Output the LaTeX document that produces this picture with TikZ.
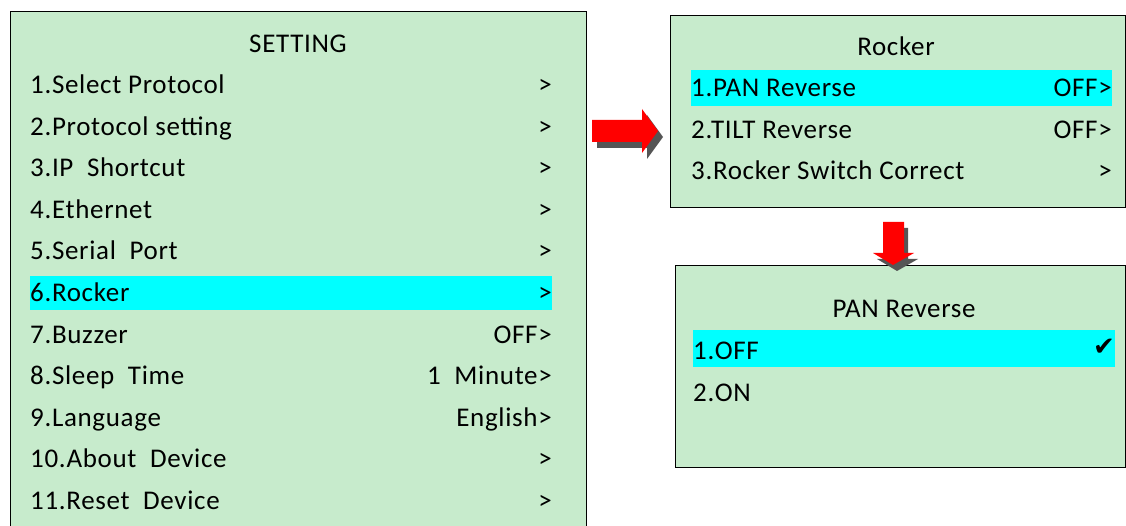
\documentclass[tikz,border=0pt]{standalone}
\usepackage{fontspec}
\setmainfont[LetterSpace=2.5]{Carlito}
\newfontfamily\symfont{DejaVu Sans}
\definecolor{panelgreen}{RGB}{199,235,204}
\definecolor{hlcyan}{RGB}{0,255,255}
\definecolor{shadowgray}{RGB}{85,85,85}

\begin{document}
\begin{tikzpicture}[x=1pt, y=-1pt]

\tikzstyle{panel} = [rectangle, draw=black, line width=1.2pt, fill=panelgreen, anchor=north west, inner sep=0]
\tikzstyle{hl} = [rectangle, fill=hlcyan, anchor=north west, inner sep=0]
\tikzstyle{item} = [anchor=base west, inner sep=0, font=\fontsize{27}{30}\selectfont]
\tikzstyle{val} = [anchor=base east, inner sep=0, font=\fontsize{27}{30}\selectfont]
\tikzstyle{ttl} = [anchor=base, inner sep=0, font=\fontsize{27}{30}\selectfont]

\useasboundingbox (0,0) rectangle (1126,526);

% panels
\node[panel, minimum width=576pt, minimum height=530pt] (setting) at (10,11) {};
\node[panel, minimum width=455pt, minimum height=192pt] (rocker) at (670,15) {};
\node[panel, minimum width=450pt, minimum height=202pt] (pan) at (675,265) {};

% highlights
\node[hl, minimum width=522pt, minimum height=34pt] (h1) at (30,276) {};
\node[hl, minimum width=421pt, minimum height=36pt] (h2) at (691,70) {};
\node[hl, minimum width=422pt, minimum height=37pt] (h3) at (693,330) {};

% SETTING menu
\node[ttl] (st) at (298,53) {SETTING};
\node[item] (s1) at (30,94) {1.Select Protocol};
\node[val] (v1) at (552,94) {>};
\node[item] (s2) at (30,135.5) {2.Protocol setting};
\node[val] (v2) at (552,135.5) {>};
\node[item] (s3) at (30,177) {3.IP\ \ Shortcut};
\node[val] (v3) at (552,177) {>};
\node[item] (s4) at (30,218.5) {4.Ethernet};
\node[val] (v4) at (552,218.5) {>};
\node[item] (s5) at (30,260) {5.Serial\ \ Port};
\node[val] (v5) at (552,260) {>};
\node[item] (s6) at (30,301.5) {6.Rocker};
\node[val] (v6) at (552,301.5) {>};
\node[item] (s7) at (30,343) {7.Buzzer};
\node[val] (v7) at (552,343) {OFF>};
\node[item] (s8) at (30,384.5) {8.Sleep\ \ Time};
\node[val] (v8) at (552,384.5) {1\ \ Minute>};
\node[item] (s9) at (30,426) {9.Language};
\node[val] (v9) at (552,426) {English>};
\node[item] (s10) at (30,467.5) {10.About\ \ Device};
\node[val] (v10) at (552,467.5) {>};
\node[item] (s11) at (30,509) {11.Reset\ \ Device};
\node[val] (v11) at (552,509) {>};

% Rocker menu
\node[ttl] (rt) at (896,56) {Rocker};
\node[item] (r1) at (691,97) {1.PAN Reverse};
\node[val] (w1) at (1112,97) {OFF>};
\node[item] (r2) at (691,139) {2.TILT Reverse};
\node[val] (w2) at (1112,139) {OFF>};
\node[item] (r3) at (691,180) {3.Rocker Switch Correct};
\node[val] (w3) at (1112,180) {>};

% PAN Reverse menu
\node[ttl] (pt) at (904,317) {PAN Reverse};
\node[item] (p1) at (693,359) {1.OFF};
\node[item] (p2) at (693,401) {2.ON};
\node[inner sep=0, font=\symfont\fontsize{26}{28}\selectfont] (ck) at (1104,347) {✔};

% arrows
\fill[shadowgray] (597,126) -- (647,126) -- (647,115) -- (663,137) -- (647,159) -- (647,148) -- (597,148) -- cycle;
\fill[red] (592,120) -- (642,120) -- (642,109) -- (658,131) -- (642,153) -- (642,142) -- (592,142) -- cycle;
\fill[shadowgray] (887,228) -- (908,228) -- (908,259) -- (918,259) -- (897,271) -- (877,259) -- (887,259) -- cycle;
\fill[red] (883,222) -- (904,222) -- (904,253) -- (914,253) -- (893,265) -- (873,253) -- (883,253) -- cycle;

\end{tikzpicture}
\end{document}
